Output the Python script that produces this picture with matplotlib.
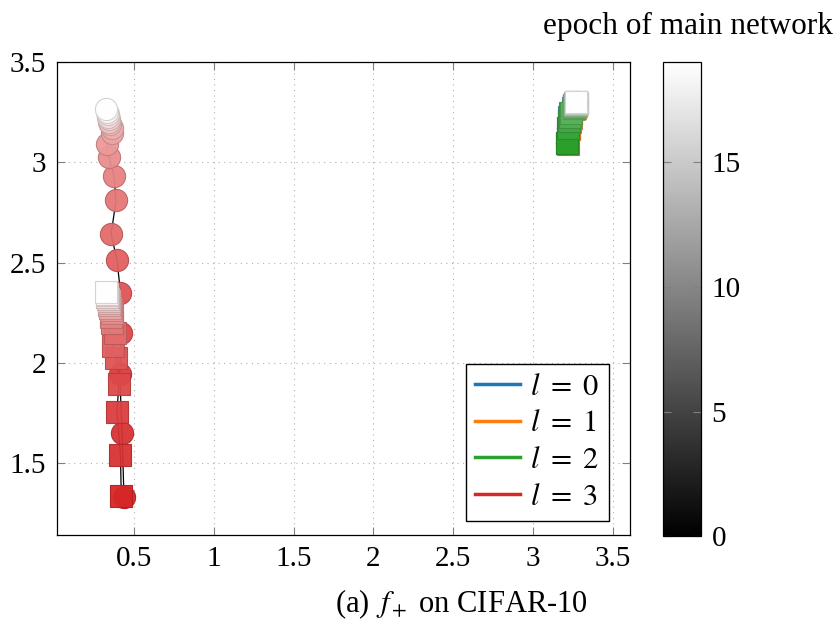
import numpy as np
import matplotlib
matplotlib.use("Agg")
import matplotlib.pyplot as plt
from matplotlib.colors import Normalize, to_rgb
from matplotlib.cm import ScalarMappable
from matplotlib.lines import Line2D

plt.rcParams['font.family'] = ['Liberation Serif', 'DejaVu Serif']
plt.rcParams['mathtext.fontset'] = 'stix'

epochs = list(range(20))

# layer 3 (red), circle trajectory
red_circ_x = [0.437, 0.425, 0.41, 0.42, 0.415, 0.393, 0.356, 0.387, 0.375, 0.343,
              0.331, 0.362, 0.36, 0.35, 0.345, 0.34, 0.338, 0.335, 0.33, 0.324]
red_circ_y = [1.33, 1.65, 1.945, 2.15, 2.35, 2.515, 2.64, 2.81, 2.93, 3.025,
              3.09, 3.145, 3.17, 3.19, 3.2, 3.215, 3.225, 3.24, 3.25, 3.265]
# layer 3 (red), square trajectory
red_sq_x = [0.42, 0.415, 0.393, 0.405, 0.39, 0.37, 0.38, 0.36, 0.355, 0.36,
            0.355, 0.35, 0.345, 0.34, 0.34, 0.335, 0.33, 0.33, 0.328, 0.325]
red_sq_y = [1.335, 1.54, 1.755, 1.895, 2.025, 2.085, 2.15, 2.2, 2.23, 2.25,
            2.265, 2.275, 2.29, 2.3, 2.31, 2.32, 2.33, 2.34, 2.345, 2.355]

# layer 2 (green)
green_x = [3.215, 3.222, 3.228, 3.232, 3.238, 3.255, 3.258, 3.26, 3.262, 3.264,
           3.265, 3.266, 3.267, 3.268, 3.269, 3.27, 3.271, 3.272, 3.273, 3.273]
green_y = [3.095, 3.17, 3.205, 3.225, 3.245, 3.27, 3.275, 3.279, 3.282, 3.285,
           3.287, 3.289, 3.291, 3.293, 3.294, 3.295, 3.297, 3.298, 3.299, 3.3]

# layers 0 and 1 sit under layer 2
blue_x = [x - 0.003 for x in green_x]
blue_y = [y + 0.002 for y in green_y]
orange_x = [x + 0.004 for x in green_x]
orange_y = [y - 0.004 for y in green_y]

layer_colors = ['#1f77b4', '#ff7f0e', '#2ca02c', '#d62728']
layer_labels = [r'$l\ =\ 0$', r'$l\ =\ 1$', r'$l\ =\ 2$', r'$l\ =\ 3$']


def fade(color, e):
    c = np.array(to_rgb(color))
    t = e / 19.0
    return tuple(c + (1 - c) * t)


def draw_path(ax, xs, ys, color, marker):
    ax.plot(xs, ys, color='black', lw=0.9, zorder=2)
    for e, x, y in zip(epochs, xs, ys):
        fc = fade(color, e)
        ec = tuple(np.array(fc) * 0.82)
        ax.plot(x, y, marker=marker, ms=16, mfc=fc, mec=ec, mew=0.8,
                alpha=0.95, ls='none', zorder=3)


fig = plt.figure(figsize=(8.38, 6.28), dpi=100)
ax = fig.add_axes([0.068, 0.148, 0.684, 0.753])

draw_path(ax, blue_x, blue_y, layer_colors[0], 's')
draw_path(ax, orange_x, orange_y, layer_colors[1], 's')
draw_path(ax, green_x, green_y, layer_colors[2], 'o')
draw_path(ax, green_x, green_y, layer_colors[2], 's')
draw_path(ax, red_circ_x, red_circ_y, layer_colors[3], 'o')
draw_path(ax, red_sq_x, red_sq_y, layer_colors[3], 's')

ax.set_xlim(0.017, 3.61)
ax.set_ylim(1.14, 3.5)
ax.set_xticks([0.5, 1, 1.5, 2, 2.5, 3, 3.5])
ax.set_xticklabels(['0.5', '1', '1.5', '2', '2.5', '3', '3.5'])
ax.set_yticks([1.5, 2, 2.5, 3, 3.5])
ax.set_yticklabels(['1.5', '2', '2.5', '3', '3.5'])
ax.grid(True, linestyle=(0, (1, 4)), color='#b0b0b0', lw=0.8)
ax.tick_params(direction='in', length=6, color='#808080', top=True, right=True,
               labelsize=21, pad=8)
for s in ax.spines.values():
    s.set_linewidth(0.9)

handles = [Line2D([0], [0], color=c, lw=2.5) for c in layer_colors]
leg = ax.legend(handles, layer_labels, loc='lower right', bbox_to_anchor=(0.963, 0.03),
                borderaxespad=0, fontsize=22, fancybox=False, edgecolor='black',
                framealpha=1, handlelength=1.45, handletextpad=0.35, labelspacing=0.25,
                borderpad=0.3)
leg.get_frame().set_linewidth(1.0)

cax = fig.add_axes([0.791, 0.146, 0.045, 0.755])
sm = ScalarMappable(norm=Normalize(0, 19), cmap='gray')
cb = fig.colorbar(sm, cax=cax, ticks=[0, 5, 10, 15])
cb.outline.set_linewidth(0.9)
cax.tick_params(direction='in', length=6, color='#808080', left=True, right=True,
                labelsize=21, pad=8)
fig.text(0.994, 0.958, 'epoch of main network', ha='right', va='center', fontsize=22.5)

fig.text(0.551, 0.038, r'(a) $\,f_+$ on CIFAR-10', ha='center', va='center', fontsize=22)

fig.savefig('out.png', dpi=100)
